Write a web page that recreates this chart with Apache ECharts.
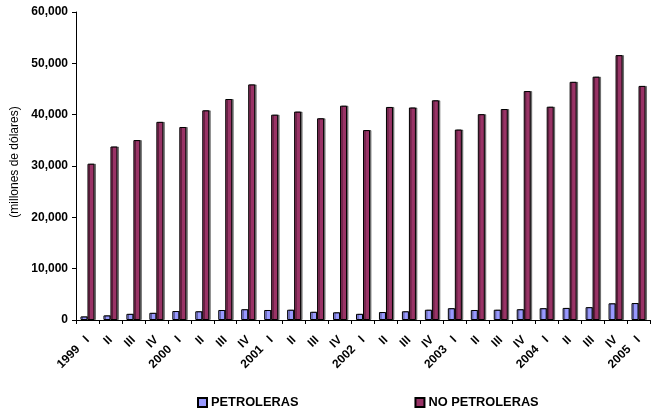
<!DOCTYPE html>
<html><head><meta charset="utf-8">
<script src="https://cdn.jsdelivr.net/npm/echarts@6/dist/echarts.min.js"></script>
<style>html,body{margin:0;padding:0;background:#fff}#c{width:653px;height:409px}</style>
</head><body><div id="c"></div>
<script>
var categories = ["1999   I","II","III","IV","2000   I","II","III","IV","2001   I","II","III","IV","2002   I","II","III","IV","2003   I","II","III","IV","2004   I","II","III","IV","2005   I"];
var petroleras = [700,900,1200,1400,1750,1700,1950,2100,1950,2000,1600,1500,1200,1550,1700,2000,2300,1950,2000,2100,2300,2350,2500,3250,3300];
var noPetroleras = [30450,33800,35050,38600,37600,40850,43050,45900,40000,40600,39300,41750,37000,41500,41400,42800,37100,40100,41100,44600,41550,46400,47400,51600,45600];
var yTicks = {min:0, max:60000, interval:10000};
var font = "Liberation Sans, Arial, sans-serif";
var chart = echarts.init(document.getElementById('c'), null, {renderer:'canvas'});
chart.setOption({
  animation:false,
  grid:{left:76, right:3, top:12, bottom:89, containLabel:false, outerBoundsMode:'none'},
  legend:{
    left:192, top:391, itemGap:116, itemWidth:9, itemHeight:9, icon:'rect',
    textStyle:{fontFamily:font, fontWeight:'bold', fontSize:12.8, color:'#000', padding:[0,0,0,-1]},
    data:['PETROLERAS','NO PETROLERAS']
  },
  xAxis:{
    type:'category', data:categories,
    axisLine:{lineStyle:{color:'#000', width:1}},
    axisTick:{show:true, length:4, lineStyle:{color:'#000'}},
    axisLabel:{interval:0, rotate:45, fontFamily:font, fontWeight:'bold', fontSize:12, color:'#000', margin:18}
  },
  yAxis:{
    type:'value', min:yTicks.min, max:yTicks.max, interval:yTicks.interval,
    name:'(millones de dólares)', nameLocation:'middle', nameGap:52,
    nameTextStyle:{fontFamily:font, fontSize:12, color:'#000', padding:[0,0,0,8]},
    axisLine:{show:true, lineStyle:{color:'#000', width:1}},
    axisTick:{show:true, length:4, lineStyle:{color:'#000'}},
    splitLine:{show:false},
    axisLabel:{fontFamily:font, fontWeight:'bold', fontSize:12, color:'#000', margin:8,
      formatter:function(v){return v.toLocaleString('en-US');}}
  },
  series:[
    {name:'PETROLERAS', type:'bar', data:petroleras, barWidth:7, barGap:'0%',
     itemStyle:{color:'#9999FF', borderColor:'#000', borderWidth:1, shadowColor:'rgba(0,0,0,0.45)', shadowOffsetX:1.5, shadowOffsetY:0, shadowBlur:0}},
    {name:'NO PETROLERAS', type:'bar', data:noPetroleras, barWidth:7, barGap:'0%',
     itemStyle:{color:'#993366', borderColor:'#000', borderWidth:1, shadowColor:'rgba(0,0,0,0.45)', shadowOffsetX:1.5, shadowOffsetY:0, shadowBlur:0}}
  ]
});
</script></body></html>
